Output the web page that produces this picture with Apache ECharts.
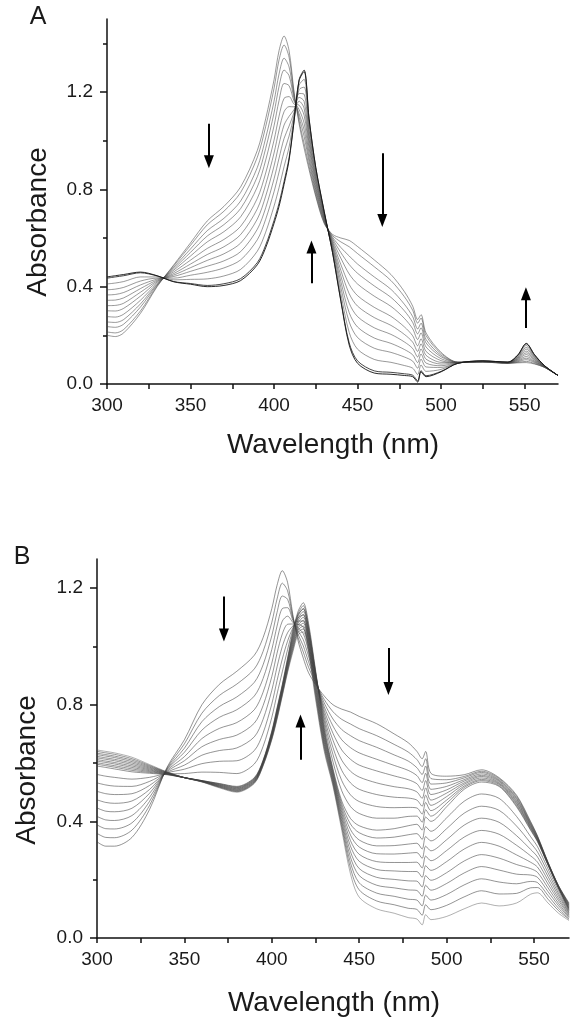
<!DOCTYPE html>
<html>
<head>
<meta charset="utf-8">
<script src="https://cdn.jsdelivr.net/npm/echarts/dist/echarts.min.js"></script>
<style>
html,body{margin:0;padding:0;background:#fff;}
#chart{width:586px;height:1026px;}
</style>
</head>
<body>
<div id="chart"></div>
<script>
// ---------- Panel A ----------
const wlA = [300,305,310,320,330,340,350,360,370,380,390,395,400,403,406,409,412,415,418,421,425,430,435,440,445,450,460,470,478,483,486,488,491,500,510,525,540,546,551,556,562,570];
const specA00 = [.20,.195,.21,.29,.40,.49,.58,.67,.73,.81,.96,1.09,1.25,1.37,1.43,1.37,1.20,1.07,.97,.88,.77,.66,.615,.60,.59,.565,.51,.45,.38,.32,.265,.285,.21,.13,.09,.09,.085,.087,.088,.082,.068,.035];
const specA01 = [.214,.21,.224,.30,.403,.486,.57,.654,.71,.787,.932,1.058,1.215,1.332,1.393,1.343,1.193,1.081,.989,.893,.777,.663,.61,.584,.564,.536,.482,.425,.359,.303,.25,.271,.199,.125,.09,.09,.085,.089,.093,.084,.068,.035];
const specA02 = [.236,.233,.246,.316,.407,.48,.555,.63,.681,.752,.89,1.011,1.162,1.274,1.339,1.303,1.182,1.097,1.018,.912,.788,.668,.604,.561,.526,.493,.44,.389,.328,.277,.226,.25,.183,.118,.089,.091,.086,.092,.10,.088,.069,.035];
const specA03 = [.255,.253,.265,.329,.41,.474,.541,.608,.655,.721,.852,.968,1.114,1.223,1.29,1.267,1.172,1.111,1.044,.928,.798,.672,.598,.54,.491,.455,.403,.356,.301,.253,.206,.231,.169,.112,.089,.091,.086,.095,.106,.091,.07,.035];
const specA04 = [.277,.275,.287,.344,.414,.468,.526,.584,.626,.687,.81,.92,1.061,1.165,1.235,1.226,1.162,1.128,1.072,.947,.808,.676,.591,.517,.452,.411,.361,.319,.27,.227,.183,.21,.152,.104,.088,.092,.087,.098,.113,.094,.07,.035];
const specA05 = [.301,.30,.311,.361,.419,.461,.509,.557,.594,.648,.763,.867,1.002,1.101,1.174,1.181,1.15,1.146,1.104,.968,.82,.681,.584,.491,.409,.363,.315,.278,.235,.198,.157,.186,.134,.096,.088,.092,.087,.101,.121,.098,.071,.035];
const specA06 = [.322,.323,.332,.377,.423,.454,.493,.532,.564,.614,.72,.82,.949,1.044,1.119,1.14,1.139,1.162,1.133,.987,.831,.686,.577,.467,.371,.32,.273,.241,.204,.172,.134,.165,.118,.089,.088,.093,.088,.104,.128,.101,.072,.035];
const specA07 = [.344,.345,.354,.392,.427,.448,.478,.508,.535,.579,.678,.772,.896,.986,1.064,1.10,1.128,1.178,1.162,1.006,.842,.69,.57,.444,.332,.277,.231,.204,.173,.146,.111,.144,.102,.082,.087,.093,.088,.107,.135,.105,.072,.035];
const specA08 = [.366,.368,.376,.407,.431,.442,.463,.484,.506,.544,.636,.724,.843,.928,1.009,1.06,1.117,1.194,1.191,1.025,.853,.695,.563,.421,.293,.234,.189,.167,.142,.12,.088,.123,.086,.075,.087,.093,.088,.11,.143,.108,.073,.035];
const specA09 = [.387,.39,.397,.423,.435,.435,.447,.459,.477,.51,.593,.677,.79,.871,.954,1.019,1.106,1.21,1.22,1.044,.864,.699,.557,.397,.255,.191,.147,.13,.111,.094,.065,.102,.07,.068,.086,.094,.089,.113,.15,.112,.073,.035];
const specA10 = [.411,.415,.421,.44,.44,.428,.43,.432,.444,.471,.546,.624,.731,.807,.893,.974,1.094,1.228,1.252,1.065,.876,.704,.549,.371,.212,.143,.101,.089,.076,.065,.039,.078,.052,.06,.086,.094,.089,.116,.158,.115,.074,.035];
const specA11 = [.435,.44,.445,.457,.444,.421,.413,.405,.412,.433,.499,.571,.672,.743,.832,.929,1.082,1.246,1.284,1.086,.888,.709,.542,.345,.169,.095,.054,.048,.042,.036,.013,.055,.034,.052,.085,.095,.09,.119,.165,.119,.075,.035];
const specA12 = [.44,.445,.45,.46,.445,.42,.41,.40,.405,.425,.49,.56,.66,.73,.82,.92,1.08,1.25,1.29,1.09,.89,.71,.54,.34,.16,.085,.045,.04,.035,.03,.008,.05,.03,.05,.085,.095,.09,.12,.167,.12,.075,.035];
const spectraA = [specA00,specA01,specA02,specA03,specA04,specA05,specA06,specA07,specA08,specA09,specA10,specA11,specA12];
// arrows: [wavelength, from, to]
const arrowsA = [[361,1.07,0.913],[422.4,0.414,0.563],[464.8,0.948,0.672],[550.8,0.23,0.371]];

// ---------- Panel B ----------
const wlB = [300,305,310,320,330,340,350,360,370,380,390,395,400,403,406,409,412,415,418,421,425,430,435,440,445,450,460,470,478,483,486,488,491,500,510,520,530,540,548,552,558,564,570];
const specB00 = [.33,.315,.315,.345,.44,.585,.68,.80,.87,.915,.97,1.03,1.13,1.21,1.26,1.22,1.11,1.02,.96,.91,.87,.83,.80,.785,.775,.76,.735,.70,.67,.64,.615,.64,.565,.555,.56,.577,.55,.49,.40,.35,.26,.18,.12];
const specB01 = [.359,.345,.344,.37,.454,.582,.666,.771,.832,.871,.923,.983,1.083,1.163,1.217,1.191,1.103,1.031,.981,.929,.876,.818,.776,.75,.734,.718,.694,.664,.638,.612,.588,.615,.547,.543,.554,.572,.547,.486,.397,.348,.259,.179,.117];
const specB02 = [.388,.375,.374,.395,.468,.579,.651,.742,.794,.827,.877,.937,1.037,1.117,1.173,1.162,1.097,1.042,1.002,.948,.881,.806,.751,.715,.694,.677,.654,.628,.607,.584,.561,.59,.528,.532,.549,.568,.543,.481,.393,.346,.258,.178,.114];
const specB03 = [.417,.405,.403,.42,.482,.577,.637,.713,.757,.783,.83,.89,.99,1.07,1.13,1.133,1.09,1.053,1.023,.967,.887,.793,.727,.68,.653,.635,.613,.592,.575,.557,.533,.565,.51,.52,.543,.563,.54,.477,.39,.343,.257,.177,.112];
const specB04 = [.446,.435,.433,.445,.496,.574,.622,.684,.719,.739,.783,.843,.943,1.023,1.087,1.104,1.083,1.064,1.044,.986,.892,.781,.702,.645,.613,.593,.573,.556,.543,.529,.506,.54,.492,.508,.538,.558,.537,.472,.387,.341,.256,.176,.109];
const specB05 = [.474,.465,.462,.47,.509,.571,.608,.656,.681,.696,.737,.797,.897,.977,1.043,1.076,1.077,1.076,1.066,1.004,.898,.769,.678,.61,.572,.552,.532,.519,.512,.501,.479,.515,.473,.497,.532,.554,.533,.468,.383,.339,.254,.174,.106];
const specB06 = [.503,.495,.492,.495,.523,.568,.593,.627,.643,.652,.69,.75,.85,.93,1.0,1.047,1.07,1.087,1.087,1.023,.903,.757,.653,.575,.532,.51,.492,.483,.48,.473,.452,.49,.455,.485,.527,.549,.53,.463,.38,.337,.253,.173,.103];
const specB07 = [.532,.525,.521,.52,.537,.566,.579,.598,.606,.608,.643,.703,.803,.883,.957,1.018,1.063,1.098,1.108,1.042,.909,.745,.629,.54,.491,.468,.451,.447,.448,.446,.425,.465,.437,.473,.521,.544,.527,.459,.377,.334,.252,.172,.101];
const specB08 = [.561,.555,.551,.545,.551,.563,.564,.569,.568,.564,.597,.657,.757,.837,.913,.989,1.057,1.109,1.129,1.061,.914,.732,.604,.505,.451,.427,.411,.411,.417,.418,.397,.44,.418,.462,.516,.54,.523,.454,.373,.332,.251,.171,.098];
const specB09 = [.59,.585,.58,.57,.565,.56,.55,.54,.53,.52,.55,.61,.71,.79,.87,.96,1.05,1.12,1.15,1.08,.92,.72,.58,.47,.41,.385,.37,.375,.385,.39,.37,.415,.40,.45,.51,.535,.52,.45,.37,.33,.25,.17,.095];
const specB10 = [.596,.591,.586,.575,.568,.561,.55,.54,.529,.518,.548,.608,.707,.786,.866,.955,1.043,1.112,1.14,1.07,.91,.712,.574,.46,.391,.361,.343,.346,.354,.358,.338,.382,.366,.412,.469,.494,.479,.417,.348,.313,.237,.162,.092];
const specB11 = [.601,.596,.591,.58,.571,.562,.55,.539,.527,.516,.546,.606,.704,.782,.862,.95,1.036,1.104,1.13,1.06,.90,.704,.568,.45,.372,.336,.316,.317,.322,.325,.305,.348,.333,.375,.428,.452,.438,.384,.326,.295,.224,.153,.088];
const specB12 = [.607,.602,.597,.585,.574,.563,.55,.539,.526,.514,.544,.604,.701,.778,.858,.945,1.029,1.096,1.12,1.05,.89,.696,.562,.44,.353,.312,.289,.288,.291,.293,.273,.315,.299,.337,.387,.411,.397,.351,.304,.278,.211,.145,.085];
const specB13 = [.612,.607,.602,.59,.577,.564,.55,.538,.524,.512,.542,.602,.698,.774,.854,.94,1.022,1.088,1.11,1.04,.88,.688,.556,.43,.334,.287,.262,.259,.259,.26,.24,.281,.265,.30,.346,.369,.356,.318,.282,.26,.198,.136,.081];
const specB14 = [.618,.613,.608,.595,.58,.565,.55,.538,.523,.51,.54,.60,.695,.77,.85,.935,1.015,1.08,1.10,1.03,.87,.68,.55,.42,.315,.263,.235,.23,.228,.228,.208,.248,.232,.262,.305,.328,.315,.285,.26,.243,.185,.128,.078];
const specB15 = [.623,.618,.613,.60,.583,.566,.55,.537,.521,.508,.538,.598,.692,.766,.846,.93,1.008,1.072,1.09,1.02,.86,.672,.544,.41,.296,.238,.208,.201,.196,.195,.175,.214,.198,.224,.264,.286,.274,.252,.238,.225,.172,.119,.074];
const specB16 = [.629,.624,.619,.605,.586,.567,.55,.537,.52,.506,.536,.596,.689,.762,.842,.925,1.001,1.064,1.08,1.01,.85,.664,.538,.40,.277,.214,.181,.172,.165,.163,.143,.181,.164,.187,.223,.245,.233,.219,.216,.208,.159,.111,.071];
const specB17 = [.634,.629,.624,.61,.589,.568,.55,.536,.518,.504,.534,.594,.686,.758,.838,.92,.994,1.056,1.07,1.0,.84,.656,.532,.39,.258,.189,.154,.143,.133,.13,.11,.147,.13,.149,.182,.203,.192,.186,.194,.19,.146,.102,.067];
const specB18 = [.64,.635,.63,.615,.592,.569,.55,.536,.517,.502,.532,.592,.683,.754,.834,.915,.987,1.048,1.06,.99,.83,.648,.526,.38,.239,.165,.127,.114,.102,.098,.078,.114,.097,.112,.141,.162,.151,.153,.172,.173,.133,.094,.064];
const specB19 = [.645,.64,.635,.62,.595,.57,.55,.535,.515,.50,.53,.59,.68,.75,.83,.91,.98,1.04,1.05,.98,.82,.64,.52,.37,.22,.14,.10,.085,.07,.065,.045,.08,.063,.074,.10,.12,.11,.12,.15,.155,.12,.085,.06];
const spectraB = [specB00,specB01,specB02,specB03,specB04,specB05,specB06,specB07,specB08,specB09,specB10,specB11,specB12,specB13,specB14,specB15,specB16,specB17,specB18,specB19];
const arrowsB = [[372.6,1.171,1.039],[466.7,0.995,0.856],[416.4,0.611,0.744]];

// ---------- Axis ticks ----------
const xMajorTicks = [300,350,400,450,500,550];
const xAllTicks = [300,325,350,375,400,425,450,475,500,525,550];
const yMajorTicks = [0,0.4,0.8,1.2];
const yMinorTicksA = [0.2,0.6,1.0,1.4];
const yMinorTicksB = [0.2,0.6,1.0];

const FONT = "'Liberation Sans', Arial, sans-serif";
const TXT = '#1a1a1a';

function xAxisCfg(gridIndex){
  return {
    type:'value', gridIndex, min:300, max:570,
    axisLine:{show:true, onZero:false, lineStyle:{color:'#111', width:1.5}},
    axisTick:{show:true, length:5, customValues:xAllTicks, lineStyle:{color:'#111', width:1.5}},
    axisLabel:{show:true, customValues:xMajorTicks, margin:12, fontSize:19, fontFamily:FONT, color:TXT},
    splitLine:{show:false}
  };
}
function yAxisMain(gridIndex, max){
  return {
    type:'value', gridIndex, min:0, max:max, position:'left',
    axisLine:{show:true, lineStyle:{color:'#111', width:1.5}},
    axisTick:{show:true, length:7, customValues:yMajorTicks, lineStyle:{color:'#111', width:1.5}},
    axisLabel:{show:true, customValues:yMajorTicks, margin:14, fontSize:19, fontFamily:FONT, color:TXT,
      formatter:(v)=>Number(v).toFixed(1)},
    splitLine:{show:false}
  };
}
function yAxisMinor(gridIndex, max, ticks){
  return {
    type:'value', gridIndex, min:0, max:max, position:'left', offset:0,
    axisLine:{show:false},
    axisTick:{show:true, length:4, customValues:ticks, lineStyle:{color:'#111', width:1.5}},
    axisLabel:{show:false},
    splitLine:{show:false}
  };
}

const series = [];
function arrowMark(arrows){
  return {
    silent:true, symbol:['none','triangle'], symbolSize:[10,13], animation:false,
    label:{show:false},
    lineStyle:{color:'#000', width:2, type:'solid'},
    emphasis:{disabled:true},
    data: arrows.map(a => [{coord:[a[0],a[1]]},{coord:[a[0],a[2]]}])
  };
}
spectraA.forEach((arr,i)=>{
  const n = spectraA.length;
  let color = 'rgba(70,70,70,0.55)';
  if (i === n-2) color = 'rgba(40,40,40,0.85)';
  if (i === n-1) color = 'rgba(20,20,20,0.9)';
  const s = {
    name:'A'+i, type:'line', xAxisIndex:0, yAxisIndex:0,
    data: wlA.map((w,j)=>[w,arr[j]]),
    showSymbol:false, smooth:0.3, lineStyle:{width:1, color}, itemStyle:{color},
    emphasis:{disabled:true}, z:2
  };
  if (i===0) s.markLine = arrowMark(arrowsA);
  series.push(s);
});
spectraB.forEach((arr,i)=>{
  const n = spectraB.length;
  let color = 'rgba(60,60,60,0.55)';
  if (i === n-1) color = 'rgba(80,80,80,0.45)';
  const s = {
    name:'B'+i, type:'line', xAxisIndex:1, yAxisIndex:2,
    data: wlB.map((w,j)=>[w,arr[j]]),
    showSymbol:false, smooth:0.3, lineStyle:{width:1, color}, itemStyle:{color},
    emphasis:{disabled:true}, z:2
  };
  if (i===0) s.markLine = arrowMark(arrowsB);
  series.push(s);
});

const chart = echarts.init(document.getElementById('chart'), null, {renderer:'canvas'});
chart.setOption({
  animation:false,
  backgroundColor:'#fff',
  grid:[
    {left:107, top:19, width:451, height:365, outerBoundsMode:'none'},
    {left:97, top:559, width:472, height:379, outerBoundsMode:'none'}
  ],
  xAxis:[xAxisCfg(0), xAxisCfg(1)],
  yAxis:[yAxisMain(0,1.5), yAxisMinor(0,1.5,yMinorTicksA), yAxisMain(1,1.3), yAxisMinor(1,1.3,yMinorTicksB)],
  series,
  graphic:[
    {type:'text', x:38, y:17, style:{text:'A', font:'25px '+FONT, fill:TXT, align:'center', verticalAlign:'middle'}},
    {type:'text', x:22, y:557, style:{text:'B', font:'25px '+FONT, fill:TXT, align:'center', verticalAlign:'middle'}},
    {type:'text', x:38, y:222, rotation:Math.PI/2, style:{text:'Absorbance', font:'28px '+FONT, fill:TXT, align:'center', verticalAlign:'middle'}},
    {type:'text', x:27, y:770, rotation:Math.PI/2, style:{text:'Absorbance', font:'28px '+FONT, fill:TXT, align:'center', verticalAlign:'middle'}},
    {type:'text', x:333, y:445, style:{text:'Wavelength (nm)', font:'28px '+FONT, fill:TXT, align:'center', verticalAlign:'middle'}},
    {type:'text', x:334, y:1003, style:{text:'Wavelength (nm)', font:'28px '+FONT, fill:TXT, align:'center', verticalAlign:'middle'}}
  ]
});
</script>
</body>
</html>
